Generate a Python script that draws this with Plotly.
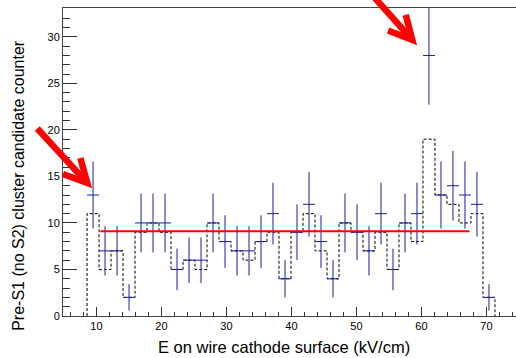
import math
import numpy as np
import plotly.graph_objects as go

# ---- data ----
bin_low = 8.55          # first bin low edge (kV/cm)
bin_width = 1.846       # bin width (kV/cm)
counts = [13, 7, 7, 2, 10, 10, 10, 5, 6, 6, 10, 8, 7, 7, 8, 11, 4,
          9, 12, 8, 4, 10, 9, 7, 11, 5, 10, 11, 28, 13, 14, 13, 12, 2]
expected = [11, 5, 7, 2, 9, 10, 9, 5, 6, 5, 10, 8, 7, 6, 8, 9, 4,
            9, 11, 7, 4, 10, 9, 7, 9, 5, 10, 8, 19, 13, 12, 10, 11, 2]
fit_value = 9.1
fit_range = [10.6, 67.4]
x_ticks = [10, 20, 30, 40, 50, 60, 70]
y_ticks = [0, 5, 10, 15, 20, 25, 30]

n = len(counts)
edges = [bin_low + i * bin_width for i in range(n + 1)]
centers = [bin_low + (i + 0.5) * bin_width for i in range(n)]
errs = [float(np.sqrt(c)) for c in counts]

# step outline for the dashed histogram
hx = [edges[0]]
hy = [0]
for i, v in enumerate(expected):
    hx += [edges[i], edges[i + 1]]
    hy += [v, v]
hx.append(edges[-1])
hy.append(0)

blue = "#1c1ca0"
fig = go.Figure()
fig.add_trace(go.Scatter(x=hx, y=hy, mode="lines",
                         line=dict(color="black", width=1, dash="3px,2px"),
                         hoverinfo="skip", showlegend=False))
fig.add_trace(go.Scatter(x=centers, y=counts, mode="markers",
                         marker=dict(size=1, color=blue, opacity=0),
                         error_x=dict(type="constant", value=bin_width / 2,
                                      color=blue, thickness=1, width=0),
                         error_y=dict(type="data", array=errs,
                                      color=blue, thickness=1, width=0),
                         showlegend=False))
fig.add_trace(go.Scatter(x=fit_range, y=[fit_value, fit_value], mode="lines",
                         line=dict(color="#ff0000", width=2),
                         showlegend=False))

# ---- red annotation arrows (drawn as paper-referenced paths) ----
W, H = 516, 358
ML, MR, MT, MB = 63, 0, 8, 42
PW, PH = W - ML - MR, H - MT - MB


def paper(px, py):
    return (px - ML) / PW, (H - MB - py) / PH


def arrow_shapes(tip, angle_deg, length, barb=26, half=27, back=4):
    a = math.radians(angle_deg)
    ux, uy = math.cos(a), math.sin(a)
    vx, vy = tip[0] - ux * back, tip[1] - uy * back
    tail = (tip[0] - ux * length, tip[1] - uy * length)
    pts = []
    for s in (+1, -1):
        b = a + math.pi + s * math.radians(half)
        pts.append((vx + barb * math.cos(b), vy + barb * math.sin(b)))
    def fmt(p):
        x, y = paper(*p)
        return f"{x:.5f},{y:.5f}"
    chevron = f"M {fmt(pts[0])} L {fmt((vx, vy))} L {fmt(pts[1])}"
    shaft_end = (vx - ux * 3, vy - uy * 3)
    shaft = f"M {fmt(tail)} L {fmt(shaft_end)}"
    style = dict(type="path", xref="paper", yref="paper",
                 line=dict(color="#ff0000", width=6.5), layer="above")
    return [dict(path=chevron, **style), dict(path=shaft, **style)]


shapes = arrow_shapes((90, 186), 47.5, 78) + arrow_shapes((415, 43), 48.3, 70)

font = "Liberation Sans, Arial, Helvetica, sans-serif"
fig.update_layout(
    width=W, height=H,
    margin=dict(l=ML, r=MR, t=MT, b=MB),
    paper_bgcolor="white", plot_bgcolor="white",
    font=dict(family=font, size=11, color="black"),
    xaxis=dict(range=[4.85, 74.55], tickvals=x_ticks, ticks="inside",
               ticklen=9, tickcolor="#333", showline=True, linecolor="#444",
               linewidth=1, mirror=True, showgrid=False, zeroline=False,
               minor=dict(dtick=2, tick0=0, ticks="inside", ticklen=4,
                          tickcolor="#333", showgrid=False),
               tickfont=dict(size=11)),
    yaxis=dict(range=[0, 33.1], tickvals=y_ticks, ticks="inside",
               ticklen=14, tickcolor="#333", showline=True, linecolor="#444",
               linewidth=1, mirror=False, showgrid=False, zeroline=False,
               minor=dict(dtick=1, tick0=0, ticks="inside", ticklen=7,
                          tickcolor="#333", showgrid=False),
               tickfont=dict(size=11)),
    shapes=shapes,
    annotations=[
        dict(text="E on wire cathode surface (kV/cm)", xref="paper", yref="paper",
             x=0.488, y=-0.1006, xanchor="center", yanchor="middle",
             showarrow=False, font=dict(size=16.5)),
        dict(text="Pre-S1 (no S2) cluster candidate counter", xref="paper",
             yref="paper", x=-0.1, y=0.425, xanchor="center", yanchor="middle",
             textangle=-90, showarrow=False, font=dict(size=16)),
    ],
)

fig.write_html("out.html")
